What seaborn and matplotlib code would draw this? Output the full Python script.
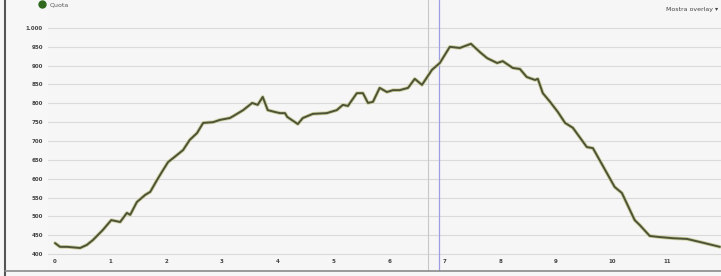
import numpy as np
import pandas as pd
import seaborn as sns
import matplotlib.pyplot as plt
from matplotlib.lines import Line2D

# elevation profile (km, metres)
distance_km = [0.00, 0.09, 0.22, 0.45, 0.57, 0.68, 0.86, 1.01, 1.17, 1.29,
               1.35, 1.47, 1.62, 1.71, 1.83, 1.92, 2.03, 2.15, 2.30, 2.42,
               2.55, 2.66, 2.84, 2.96, 3.14, 3.20, 3.38, 3.54, 3.64, 3.73,
               3.82, 3.95, 4.04, 4.13, 4.17, 4.36, 4.45, 4.63, 4.88, 5.06,
               5.17, 5.26, 5.42, 5.53, 5.62, 5.71, 5.83, 5.96, 6.07, 6.19,
               6.34, 6.46, 6.59, 6.77, 6.91, 7.09, 7.27, 7.36, 7.47, 7.63,
               7.76, 7.94, 8.04, 8.22, 8.35, 8.47, 8.62, 8.67, 8.76, 8.89,
               9.03, 9.16, 9.30, 9.55, 9.66, 9.91, 10.05, 10.18, 10.41, 10.50,
               10.68, 10.86, 11.09, 11.35, 11.58, 11.94]
quota_m = [429, 419, 419, 416, 424, 437, 464, 490, 485, 509,
           504, 538, 557, 565, 596, 618, 644, 658, 676, 703,
           721, 748, 750, 756, 761, 766, 782, 801, 796, 817,
           782, 777, 774, 774, 764, 745, 761, 772, 774, 782,
           796, 793, 827, 827, 801, 804, 841, 830, 835, 835,
           841, 865, 849, 889, 907, 950, 947, 952, 958, 936,
           920, 907, 912, 894, 891, 870, 862, 865, 827, 804,
           777, 748, 735, 684, 681, 615, 578, 562, 490, 477,
           448, 445, 442, 440, 432, 419]

y_ticks = list(range(400, 1001, 50))
x_ticks = list(range(0, 12))
cursor_km = 6.9
shadow_km = 6.7

df = pd.DataFrame({'km': distance_km, 'quota': quota_m})

sns.set_style('white', {'axes.facecolor': '#f6f6f6'})
plt.rcParams['font.family'] = ['DejaVu Sans']

fig = plt.figure(figsize=(7.21, 2.76), dpi=100)
fig.patch.set_facecolor('#f7f7f7')
# axes spans px 48..721 horizontally and 0..271 vertically
ax = fig.add_axes([48 / 721, 5 / 276, 673 / 721, 271 / 276])

ax.set_xlim(-0.126, 11.96)
ax.set_ylim(354.9, 1074.3)

for v in y_ticks:
    ax.axhline(v, color='#dadada', lw=0.8, zorder=0)

ax.axvline(shadow_km, color='#c8c8cc', lw=0.8, zorder=1)
ax.axvline(cursor_km, color='#9d9de6', lw=0.9, zorder=1)

sns.lineplot(data=df, x='km', y='quota', ax=ax, color='#cfcea2', lw=2.6,
             zorder=2, legend=False)
sns.lineplot(data=df, x='km', y='quota', ax=ax, color='#4c5436', lw=1.4,
             zorder=3, legend=False)

ax.set_xticks(x_ticks)
ax.set_xticklabels([str(t) for t in x_ticks])
ax.set_yticks(y_ticks)
ax.set_yticklabels(['1.000' if t == 1000 else str(t) for t in y_ticks])
ax.tick_params(axis='x', length=0, pad=-8.5, labelsize=4, labelcolor='#444444')
ax.tick_params(axis='y', length=0, pad=3.6, labelsize=4, labelcolor='#444444')
for lab in ax.get_xticklabels() + ax.get_yticklabels():
    lab.set_fontweight('bold')
ax.set_xlabel('')
ax.set_ylabel('')
for s in ax.spines.values():
    s.set_visible(False)

leg = ax.legend(handles=[Line2D([], [], marker='o', ls='', color='#2f6a1d',
                                markersize=5)],
                labels=['Quota'], loc='upper left', frameon=False,
                bbox_to_anchor=(36 / 721, 1 - 2 / 276),
                bbox_transform=fig.transFigure, fontsize=4.5,
                handletextpad=0.1, borderpad=0, borderaxespad=0,
                labelcolor='#555555')

fig.text(666 / 721, 1 - 10 / 276, 'Mostra overlay \u25be', fontsize=4.5,
         color='#444444', va='center', ha='left')

# frame edges of the original widget
fig.add_artist(Line2D([5 / 721, 5 / 721], [0, 1], color='#555555', lw=1.5,
                      transform=fig.transFigure))
fig.add_artist(Line2D([5 / 721, 1], [5 / 276, 5 / 276], color='#8a8a8a', lw=1.2,
                      transform=fig.transFigure))

plt.savefig('out.png', dpi=100)
plt.close()
